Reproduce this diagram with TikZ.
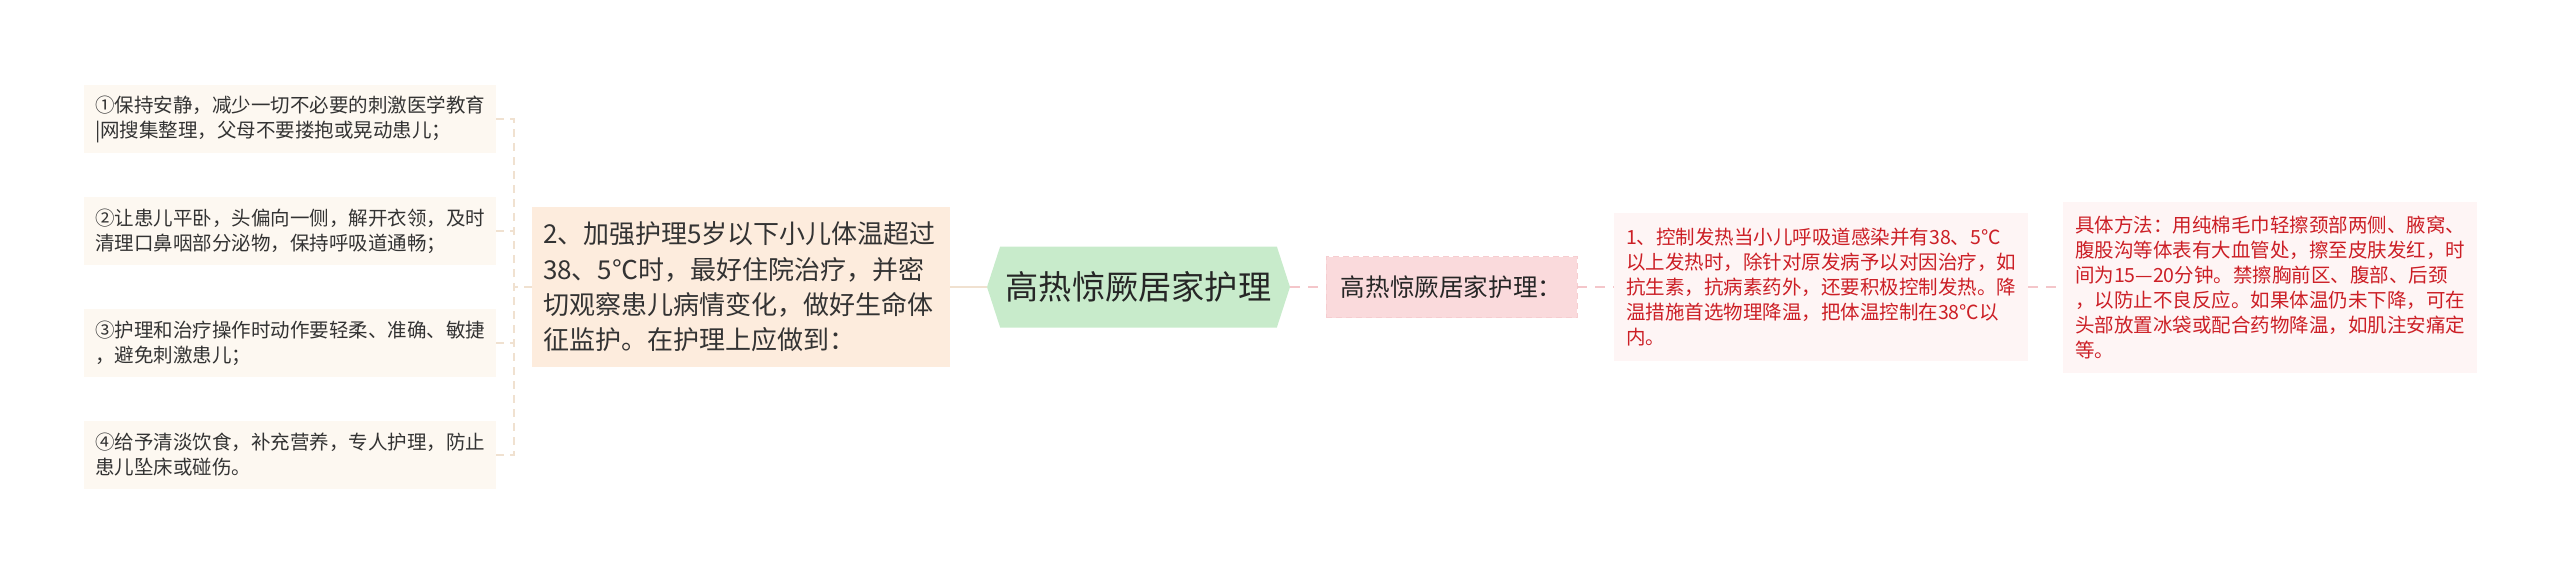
\documentclass[tikz,border=0pt]{standalone}
\usepackage{fontspec}
\setmainfont{Noto Sans CJK SC}
\usepackage{tikz}
\usetikzlibrary{shapes.symbols,positioning,trees}
\definecolor{leafbg}{HTML}{FDF8F1}
\definecolor{branchbg}{HTML}{FDECDD}
\definecolor{rootbg}{HTML}{C8EBCB}
\definecolor{subbg}{HTML}{FADADC}
\definecolor{subline}{HTML}{F6CDD0}
\definecolor{detailbg}{HTML}{FEF5F5}
\definecolor{detailred}{HTML}{CC1F26}
\definecolor{linebeige}{HTML}{F0E1D0}
\definecolor{linepink}{HTML}{F4C6CA}
\definecolor{inkgray}{HTML}{333333}

\begin{document}
\begin{tikzpicture}[
        x=0.5pt, y=-0.5pt,
        topic/.style={
                shape=signal,
                signal to=west and east,
                signal pointer angle=144,
                fill=rootbg,
                text=black!85,
                minimum width=151.5pt,
                minimum height=40.5pt,
                inner sep=0pt,
                font=\fontsize{16.6pt}{20pt}\selectfont
            },
        subtopic/.style={
                fill=subbg,
                draw=subline,
                dash pattern=on 3pt off 2pt,
                text=black!85,
                minimum width=125.5pt,
                minimum height=30.5pt,
                inner sep=0pt,
                font=\fontsize{12.3pt}{15pt}\selectfont
            },
        branch/.style={
                fill=branchbg,
                text=inkgray,
                text width=198pt,
                align=left,
                inner xsep=5.5pt,
                minimum height=80pt,
                font=\fontsize{13pt}{17.7pt}\selectfont
            },
        theme/.style={
                fill=leafbg,
                text=inkgray,
                text width=195pt,
                align=left,
                inner xsep=5.5pt,
                minimum height=34pt,
                font=\fontsize{9.75pt}{12.5pt}\selectfont
            },
        description/.style={
                fill=detailbg,
                text=detailred,
                text width=195pt,
                align=left,
                inner xsep=6pt,
                font=\fontsize{9.75pt}{12.5pt}\selectfont
            },
        leftline/.style={
                edge from parent/.style={draw=linebeige, line width=1pt, dash pattern=on 4pt off 3pt},
                edge from parent path={(\tikzparentnode.west) -- ++(-9pt,0) |- (\tikzchildnode.east)}
            },
        rightline/.style={
                edge from parent/.style={draw=linepink, line width=1pt, dash pattern=on 5pt off 4pt},
                edge from parent path={(\tikzparentnode.east) -- (\tikzchildnode.west)}
            },
        level 1/.style={sibling distance=0pt},
        level 2/.style={sibling distance=56pt},
        level 3/.style={sibling distance=0pt},
    ]
    \useasboundingbox (0,0) rectangle (2560,575);
    % Topic
    \node[topic] (root) at (1138.5,287) {高热惊厥居家护理}
    child[grow=left, level distance=198.75pt,
            edge from parent/.style={draw=linebeige, line width=1pt},
            edge from parent path={(\tikzparentnode.west) -- (\tikzchildnode.east)}]{node[branch] (care) {2、加强护理5岁以下小儿体温超过\\38、5℃时，最好住院治疗，并密\\切观察患儿病情变化，做好生命体\\征监护。在护理上应做到：}
            child[leftline, level distance=225.5pt]{node[theme] (quiet) {①保持安静，减少一切不必要的刺激医学教育\\|网搜集整理，父母不要搂抱或晃动患儿；}}
            child[leftline, level distance=225.5pt]{node[theme] (lie) {②让患儿平卧，头偏向一侧，解开衣领，及时\\清理口鼻咽部分泌物，保持呼吸道通畅；}}
            child[leftline, level distance=225.5pt]{node[theme] (gentle) {③护理和治疗操作时动作要轻柔、准确、敏捷\\，避免刺激患儿；}}
            child[leftline, level distance=225.5pt]{node[theme] (diet) {④给予清淡饮食，补充营养，专人护理，防止\\患儿坠床或碰伤。}}
        }
    child[grow=right, rightline, level distance=156.5pt]{node[subtopic] (home) {高热惊厥居家护理：}
            child[grow=right, rightline, level distance=184.75pt]{node[description, minimum height=74pt] (fever) {1、控制发热当小儿呼吸道感染并有38、5℃\\以上发热时，除针对原发病予以对因治疗，如\\抗生素，抗病素药外，还要积极控制发热。降\\温措施首选物理降温，把体温控制在38℃以\\内。}
                    child[grow=right, rightline, level distance=224.5pt]{node[description, minimum height=85.5pt] (method) {具体方法：用纯棉毛巾轻擦颈部两侧、腋窝、\\腹股沟等体表有大血管处，擦至皮肤发红，时\\间为15—20分钟。禁擦胸前区、腹部、后颈\\，以防止不良反应。如果体温仍未下降，可在\\头部放置冰袋或配合药物降温，如肌注安痛定\\等。}}
                }
        };
\end{tikzpicture}
\end{document}
